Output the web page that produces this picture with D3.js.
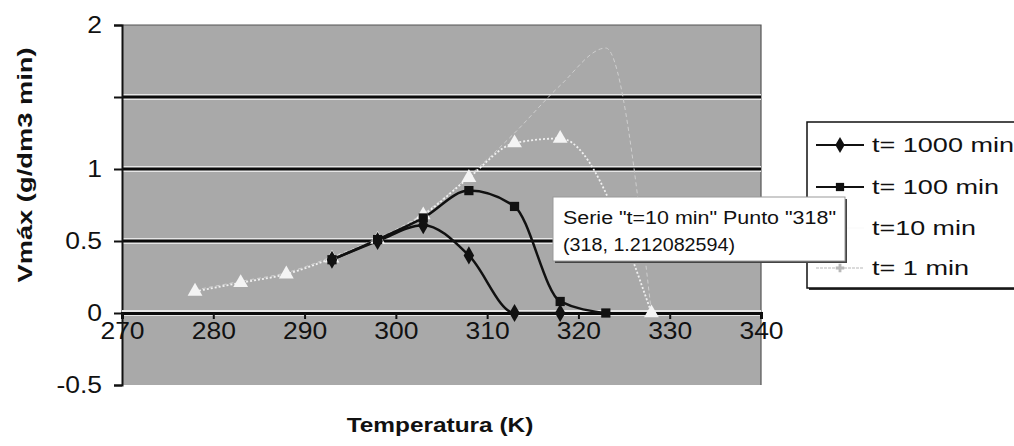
<!DOCTYPE html>
<html>
<head>
<meta charset="utf-8">
<script src="https://cdn.jsdelivr.net/npm/d3@7/dist/d3.min.js"></script>
<style>
  html, body { margin: 0; padding: 0; background: #fff; }
  svg { display: block; }
  text { font-family: Arial, "Liberation Sans", sans-serif; fill: #111; }
</style>
</head>
<body>
<svg id="chart" width="1014" height="446"></svg>
<script>
// Temperatures (K) and maximum rate values per reaction time
const t1000Temp = [293, 298, 303, 308, 313, 318];
const t1000Vmax = [0.37, 0.50, 0.61, 0.40, 0.0, 0.0];

const t100Temp = [293, 298, 303, 308, 313, 318, 323];
const t100Vmax = [0.37, 0.51, 0.66, 0.85, 0.74, 0.08, 0.0];

const t10Temp = [278, 283, 288, 293, 298, 303, 308, 313, 318, 328];
const t10Vmax = [0.15, 0.21, 0.27, 0.38, 0.51, 0.68, 0.94, 1.18, 1.212082594, 0.0];

const t1Temp = [278, 283, 288, 293, 298, 303, 308, 313, 318, 323, 328];
const t1Vmax = [0.16, 0.22, 0.28, 0.39, 0.52, 0.69, 0.95, 1.25, 1.58, 1.84, 0.0];

const seriesNames = ["t= 1000 min", "t= 100 min", "t=10 min", "t= 1 min"];
const xTicks = [270, 280, 290, 300, 310, 320, 330, 340];
const yTicks = [-0.5, 0, 0.5, 1, 1.5, 2];
const yTickLabels = ["-0.5", "0", "0.5", "1", "", "2"];

const xTitle = "Temperatura (K)";
const yTitle = "Vmáx (g/dm3 min)";
const tipLines = ["Serie \"t=10 min\" Punto \"318\"", "(318, 1.212082594)"];

const svg = d3.select("#chart");
const W = 1014, H = 446;
svg.append("rect").attr("width", W).attr("height", H).attr("fill", "#fff");

const plot = { left: 122, right: 761, top: 25, bottom: 385 };
const x = d3.scaleLinear().domain([270, 340]).range([plot.left, plot.right]);
const y = d3.scaleLinear().domain([-0.5, 2]).range([plot.bottom, plot.top]);

// widen glyphs horizontally by factor k
function stretch(sel, k) {
  sel.each(function () {
    const w = this.getComputedTextLength();
    if (w > 0) d3.select(this).attr("textLength", w * k).attr("lengthAdjust", "spacingAndGlyphs");
  });
}

// plot area
svg.append("rect")
  .attr("x", plot.left).attr("y", plot.top)
  .attr("width", plot.right - plot.left).attr("height", plot.bottom - plot.top)
  .attr("fill", "#a9a9a9");
// top and right frame
svg.append("path")
  .attr("d", `M${plot.left},${plot.top}H${plot.right}V${plot.bottom}`)
  .attr("fill", "none").attr("stroke", "#555").attr("stroke-width", 1.2);

// horizontal gridlines with light halo
const gridVals = [1.5, 1, 0.5];
const grid = svg.append("g");
gridVals.forEach(v => {
  grid.append("line").attr("x1", plot.left).attr("x2", plot.right)
    .attr("y1", y(v)).attr("y2", y(v)).attr("stroke", "#e6e6e6").attr("stroke-width", 6);
  grid.append("line").attr("x1", plot.left).attr("x2", plot.right)
    .attr("y1", y(v)).attr("y2", y(v)).attr("stroke", "#0a0a0a").attr("stroke-width", 3);
});

// y axis
const yAxis = svg.append("g")
  .attr("transform", `translate(${plot.left},0)`)
  .call(d3.axisLeft(y).tickValues(yTicks)
    .tickFormat((d, i) => yTickLabels[i]).tickSize(8).tickPadding(12));
yAxis.select(".domain").attr("stroke", "#111").attr("stroke-width", 2);
yAxis.selectAll(".tick line").attr("stroke", "#111").attr("stroke-width", 2);
yAxis.selectAll(".tick text").attr("font-size", 23).attr("font-family", "Arial, 'Liberation Sans', sans-serif").attr("fill", "#111");
stretch(yAxis.selectAll(".tick text"), 1.15);

// x axis along Vmax = 0
svg.append("line").attr("x1", plot.left).attr("x2", plot.right)
  .attr("y1", y(0)).attr("y2", y(0)).attr("stroke", "#e6e6e6").attr("stroke-width", 6);
const xAxis = svg.append("g")
  .attr("transform", `translate(0,${y(0)})`)
  .call(d3.axisBottom(x).tickValues(xTicks).tickFormat(d3.format("d")).tickSize(6).tickPadding(4));
xAxis.select(".domain").attr("stroke", "#0a0a0a").attr("stroke-width", 3);
xAxis.selectAll(".tick line").attr("stroke", "#111").attr("stroke-width", 2);
xAxis.selectAll(".tick text").attr("font-size", 23).attr("font-family", "Arial, 'Liberation Sans', sans-serif").attr("fill", "#111");
stretch(xAxis.selectAll(".tick text"), 1.15);

// axis titles
const xt = svg.append("text").attr("x", 440).attr("y", 432)
  .attr("text-anchor", "middle").attr("font-size", 20).attr("font-weight", "bold").text(xTitle);
stretch(xt, 1.22);
const yt = svg.append("text")
  .attr("transform", `translate(32,165) rotate(-90)`)
  .attr("text-anchor", "middle").attr("font-size", 21).attr("font-weight", "bold").text(yTitle);
stretch(yt, 1.3);

// series
const line = d3.line().x(d => x(d[0])).y(d => y(d[1])).curve(d3.curveMonotoneX);
const zip = (a, b) => a.map((v, i) => [v, b[i]]);

const series = [
  { name: seriesNames[3], pts: zip(t1Temp, t1Vmax), stroke: "#cfcfcf", width: 1, dash: "4,3", marker: null },
  { name: seriesNames[2], pts: zip(t10Temp, t10Vmax), stroke: "#f0f0f0", width: 1.8, dash: "2,2", marker: d3.symbolTriangle, mFill: "#f4f4f4", mSize: 95 },
  { name: seriesNames[1], pts: zip(t100Temp, t100Vmax), stroke: "#111", width: 2.5, dash: null, marker: d3.symbolSquare, mFill: "#111", mSize: 85 },
  { name: seriesNames[0], pts: zip(t1000Temp, t1000Vmax), stroke: "#111", width: 2.5, dash: null, marker: d3.symbolDiamond, mFill: "#111", mSize: 95 }
];

const gSeries = svg.append("g");
series.forEach(s => {
  gSeries.append("path").datum(s.pts)
    .attr("d", line).attr("fill", "none")
    .attr("stroke", s.stroke).attr("stroke-width", s.width)
    .attr("stroke-dasharray", s.dash);
});
series.forEach(s => {
  if (!s.marker) return;
  gSeries.selectAll(null).data(s.pts).join("path")
    .attr("transform", d => `translate(${x(d[0])},${y(d[1])})`)
    .attr("d", d3.symbol().type(s.marker).size(s.mSize))
    .attr("fill", s.mFill);
});

// legend
const lg = { x: 807, y: 122, w: 220, h: 166 };
svg.append("rect").attr("x", lg.x + 2).attr("y", lg.y + 2).attr("width", lg.w).attr("height", lg.h)
  .attr("fill", "#333");
svg.append("rect").attr("x", lg.x).attr("y", lg.y).attr("width", lg.w).attr("height", lg.h)
  .attr("fill", "#fff").attr("stroke", "#111").attr("stroke-width", 1.5);
const legendItems = [series[3], series[2], series[1], series[0]];
const legendRows = [145, 187, 228, 268];
const legendW = [142, 127, 104, 97];
const legendStroke = ["#111", "#111", "#fafafa", "#b8b8b8"];
legendItems.forEach((s, i) => {
  const g = svg.append("g").attr("transform", `translate(816,${legendRows[i]})`);
  g.append("line").attr("x1", 0).attr("x2", 48)
    .attr("stroke", legendStroke[i])
    .attr("stroke-width", i < 2 ? 2 : 1.2)
    .attr("stroke-dasharray", i === 3 ? "3,1" : null);
  if (s.marker) {
    g.append("path").attr("transform", "translate(24,0)")
      .attr("d", d3.symbol().type(s.marker).size(s.mSize * 0.8))
      .attr("fill", s.mFill === "#f4f4f4" ? "#fafafa" : s.mFill);
  } else {
    g.append("path").attr("transform", "translate(24,0)")
      .attr("d", d3.symbol().type(d3.symbolCross).size(40))
      .attr("fill", "#b8b8b8");
  }
  g.append("text").attr("x", 56).attr("y", 0).attr("dy", "0.35em")
    .attr("font-size", 21).attr("textLength", legendW[i]).attr("lengthAdjust", "spacingAndGlyphs")
    .text(s.name);
});

// data tip box
const tip = { x: 553, y: 197, w: 292, h: 64 };
svg.append("rect").attr("x", tip.x + 2).attr("y", tip.y + 2).attr("width", tip.w).attr("height", tip.h)
  .attr("fill", "#444");
svg.append("rect").attr("x", tip.x).attr("y", tip.y).attr("width", tip.w).attr("height", tip.h)
  .attr("fill", "#fff").attr("stroke", "#9a9a9a").attr("stroke-width", 1);
svg.append("text").attr("x", tip.x + 10).attr("y", tip.y + 27)
  .attr("font-family", "'Noto Sans', 'Open Sans', sans-serif").attr("font-size", 18)
  .attr("textLength", 273).attr("lengthAdjust", "spacingAndGlyphs").text(tipLines[0]);
svg.append("text").attr("x", tip.x + 10).attr("y", tip.y + 54)
  .attr("font-family", "'Noto Sans', 'Open Sans', sans-serif").attr("font-size", 18)
  .attr("textLength", 172).attr("lengthAdjust", "spacingAndGlyphs").text(tipLines[1]);
</script>
</body>
</html>
